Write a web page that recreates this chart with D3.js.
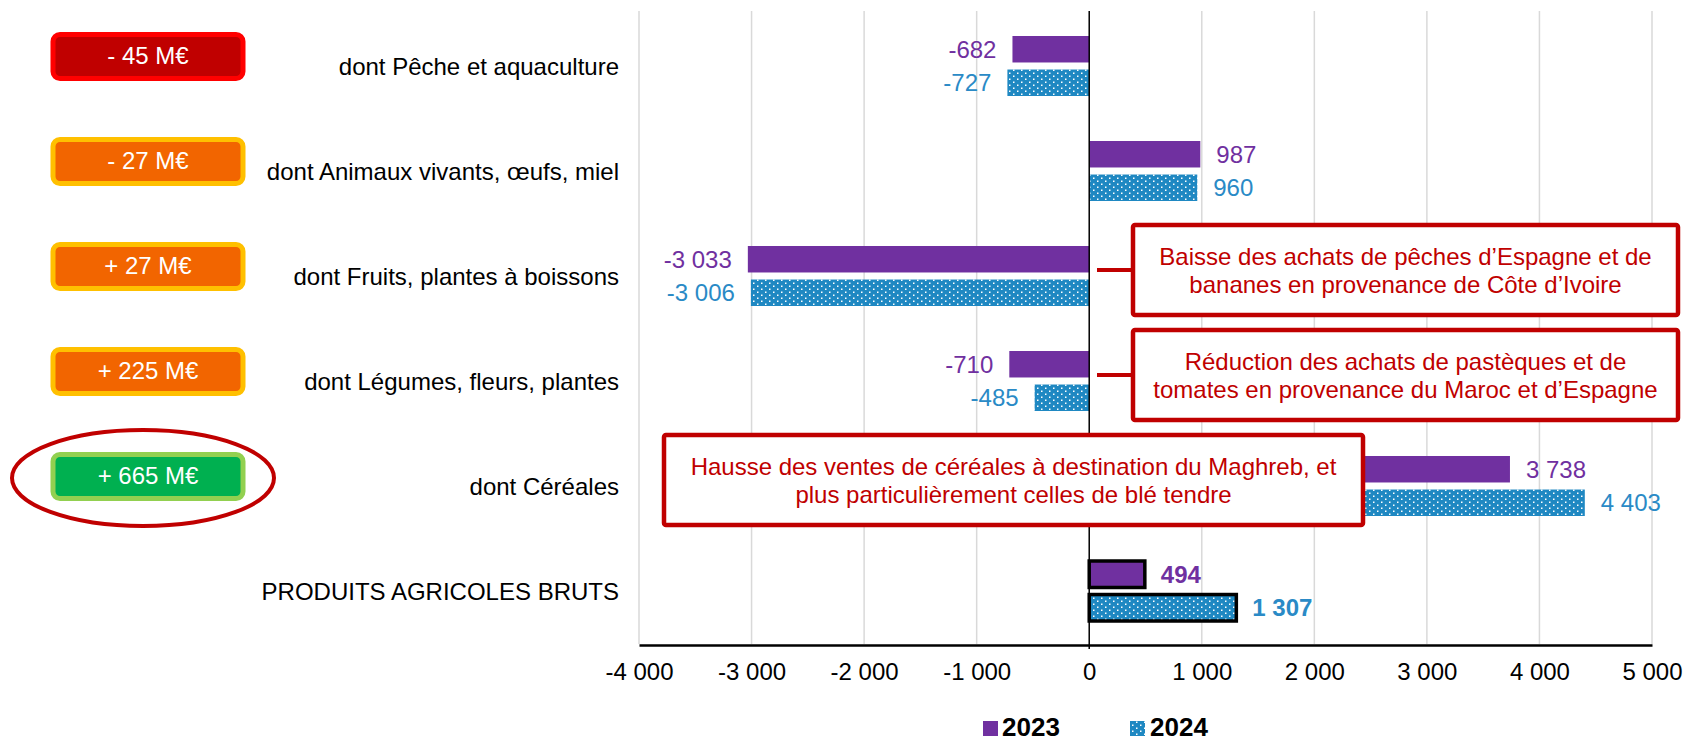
<!DOCTYPE html>
<html>
<head>
<meta charset="utf-8">
<script src="https://cdn.jsdelivr.net/npm/d3@7"></script>
<style>
  body { margin: 0; background: #fff; }
  svg { display: block; font-family: "Liberation Sans", Arial, sans-serif; }
</style>
</head>
<body>
<div id="chart"></div>
<script>
'use strict'
var width = 1687;
var height = 744;

// data
var categories = ["dont Pêche et aquaculture", "dont Animaux vivants, œufs, miel", "dont Fruits, plantes à boissons",
	"dont Légumes, fleurs, plantes", "dont Céréales", "PRODUITS AGRICOLES BRUTS"];
var series = ["2023", "2024"];
var values2023 = [-682, 987, -3033, -710, 3738, 494];
var values2024 = [-727, 960, -3006, -485, 4403, 1307];
var tickValues = [-4000, -3000, -2000, -1000, 0, 1000, 2000, 3000, 4000, 5000];
var badgeLabels = ["- 45 M€", "- 27 M€", "+ 27 M€", "+ 225 M€", "+ 665 M€"];
var notes = [
	{cat: 2, lines: ["Baisse des achats de pêches d’Espagne et de", "bananes en provenance de Côte d’Ivoire"]},
	{cat: 3, lines: ["Réduction des achats de pastèques et de", "tomates en provenance du Maroc et d’Espagne"]},
	{cat: 4, lines: ["Hausse des ventes de céréales à destination du Maghreb, et", "plus particulièrement celles de blé tendre"]}
];

// styles
var purple = "#7030A0";
var blue = "#1F88C2";
var blueText = "#2A8AC6";
var darkRed = "#C00000";
var badgeFill = ["#C00000", "#F26500", "#F26500", "#F26500", "#00B050"];
var badgeStroke = ["#FF0000", "#FFC000", "#FFC000", "#FFC000", "#92D050"];

var fr = d3.formatLocale({decimal: ",", thousands: " ", grouping: [3], currency: ["", " €"], minus: "-"});
var fmt = fr.format(",d");

var svg = d3.select("#chart").append("svg")
	.attr("width", width)
	.attr("height", height);

var defs = svg.append("defs");
var pat = defs.append("pattern")
	.attr("id", "dots")
	.attr("patternUnits", "userSpaceOnUse")
	.attr("width", 8).attr("height", 6);
pat.append("rect").attr("width", 8).attr("height", 6).attr("fill", blue);
pat.append("rect").attr("x", 1).attr("y", 0.5).attr("width", 1.5).attr("height", 1.5).attr("fill", "#fff");
pat.append("rect").attr("x", 5).attr("y", 3.5).attr("width", 1.5).attr("height", 1.5).attr("fill", "#fff");

var x = d3.scaleLinear().domain([-4000, 5000]).range([639, 1652]);
var y = d3.scaleBand().domain(categories).range([13.5, 643.5]);
var ySub = d3.scaleBand().domain(series).range([-30, 30]).paddingInner(0.21);

function center(c) { return y(c) + y.bandwidth() / 2; }

// gridlines
svg.append("g")
	.selectAll("line")
	.data(tickValues.filter(function(d){ return d !== 0; }))
	.enter()
	.append("line")
		.attr("x1", function(d){ return x(d); })
		.attr("x2", function(d){ return x(d); })
		.attr("y1", 11)
		.attr("y2", 644)
		.style("stroke", "#D9D9D9")
		.style("stroke-width", 1.5);

// bars
var rows = categories.map(function(c, i){
	return [{cat: c, s: "2023", v: values2023[i], i: i}, {cat: c, s: "2024", v: values2024[i], i: i}];
});
var flat = [].concat.apply([], rows);

svg.append("g")
	.selectAll("rect")
	.data(flat)
	.enter()
	.append("rect")
		.attr("x", function(d){ return x(Math.min(0, d.v)); })
		.attr("width", function(d){ return Math.abs(x(d.v) - x(0)); })
		.attr("y", function(d){ return center(d.cat) + ySub(d.s); })
		.attr("height", ySub.bandwidth())
		.attr("fill", function(d){ return d.s === "2023" ? purple : "url(#dots)"; })
		.style("stroke", function(d){ return d.i === 5 ? "#000" : "none"; })
		.style("stroke-width", 3.5);

// value labels
svg.append("g")
	.selectAll("text")
	.data(flat)
	.enter()
	.append("text")
		.attr("x", function(d){ return d.v < 0 ? x(d.v) - 16 : x(d.v) + 16; })
		.attr("y", function(d){ return center(d.cat) + ySub(d.s) + ySub.bandwidth() / 2; })
		.attr("text-anchor", function(d){ return d.v < 0 ? "end" : "start"; })
		.attr("dominant-baseline", "central")
		.style("font-size", "24px")
		.style("font-weight", function(d){ return d.i === 5 ? "bold" : "normal"; })
		.style("fill", function(d){ return d.s === "2023" ? purple : blueText; })
		.text(function(d){ return fmt(d.v); });

// zero line
svg.append("line")
	.attr("x1", x(0)).attr("x2", x(0))
	.attr("y1", 11).attr("y2", 649)
	.style("stroke", "#000")
	.style("stroke-width", 1.5);

// bottom axis
var axis = svg.append("g").attr("transform", "translate(0,645)")
	.call(d3.axisBottom(x).tickValues(tickValues).tickSize(0).tickPadding(18).tickFormat(fmt));
axis.select(".domain").style("stroke", "#000").style("stroke-width", 2.5);
axis.selectAll("text")
	.style("font-size", "24px")
	.style("font-family", "'Liberation Sans', Arial, sans-serif")
	.style("fill", "#000");

// category labels
svg.append("g")
	.selectAll("text")
	.data(categories)
	.enter()
	.append("text")
		.attr("x", 619)
		.attr("y", function(d){ return center(d); })
		.attr("text-anchor", "end")
		.attr("dominant-baseline", "central")
		.style("font-size", "24px")
		.style("fill", "#000")
		.text(function(d){ return d; });

// badges
var badges = svg.append("g")
	.selectAll("g")
	.data(badgeLabels)
	.enter()
	.append("g")
		.attr("transform", function(d, i){ return "translate(148," + (center(categories[i]) - 9.5) + ")"; });
badges.append("rect")
	.attr("x", -95).attr("y", -22)
	.attr("width", 190).attr("height", 44)
	.attr("rx", 7)
	.attr("fill", function(d, i){ return badgeFill[i]; })
	.style("stroke", function(d, i){ return badgeStroke[i]; })
	.style("stroke-width", 5);
badges.append("text")
	.attr("y", -1)
	.attr("text-anchor", "middle")
	.attr("dominant-baseline", "central")
	.style("font-size", "24px")
	.style("fill", "#fff")
	.text(function(d){ return d; });

// ellipse around cereals badge
svg.append("ellipse")
	.attr("cx", 143)
	.attr("cy", center(categories[4]) - 8)
	.attr("rx", 131).attr("ry", 48)
	.attr("fill", "none")
	.style("stroke", darkRed)
	.style("stroke-width", 4);

// annotation boxes
var boxes = [
	{x0: 1133, x1: 1678, link: 1097},
	{x0: 1133, x1: 1678, link: 1097},
	{x0: 664, x1: 1363, link: null}
];
notes.forEach(function(n, k){
	var b = boxes[k];
	var cy = center(categories[n.cat]) - 6;
	var g = svg.append("g");
	if (b.link !== null) {
		g.append("line")
			.attr("x1", b.link).attr("x2", b.x0)
			.attr("y1", cy).attr("y2", cy)
			.style("stroke", darkRed)
			.style("stroke-width", 4);
	}
	g.append("rect")
		.attr("x", b.x0).attr("y", cy - 45)
		.attr("width", b.x1 - b.x0).attr("height", 90)
		.attr("rx", 2)
		.attr("fill", "#fff")
		.style("stroke", darkRed)
		.style("stroke-width", 4.5);
	g.selectAll("text")
		.data(n.lines)
		.enter()
		.append("text")
			.attr("x", (b.x0 + b.x1) / 2)
			.attr("y", function(d, j){ return cy - 14 + j * 28; })
			.attr("text-anchor", "middle")
			.attr("dominant-baseline", "central")
			.style("font-size", "24px")
			.style("fill", darkRed)
			.text(function(d){ return d; });
});

// legend
var legend = svg.append("g").attr("transform", "translate(983,721)");
legend.append("rect").attr("width", 15).attr("height", 15).attr("fill", purple);
legend.append("text").attr("x", 19).attr("y", 15)
	.style("font-size", "26px").style("font-weight", "bold").text(series[0]);
legend.append("rect").attr("x", 147).attr("width", 15).attr("height", 15).attr("fill", "url(#dots)");
legend.append("text").attr("x", 167).attr("y", 15)
	.style("font-size", "26px").style("font-weight", "bold").text(series[1]);
</script>
</body>
</html>
